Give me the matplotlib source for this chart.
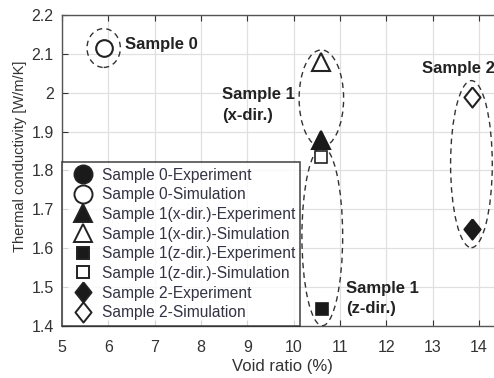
import matplotlib
matplotlib.use('Agg')
import matplotlib.pyplot as plt
from matplotlib.patches import Ellipse
from matplotlib.lines import Line2D

plt.rcParams['font.family'] = ['Liberation Sans', 'DejaVu Sans']

# measured / simulated points (void ratio %, conductivity W/m/K)
s0_sim = (5.9, 2.115)
s1x_exp = (10.6, 1.878)
s1x_sim = (10.6, 2.079)
s1z_exp = (10.62, 1.443)
s1z_sim = (10.6, 1.835)
s2_exp = (13.85, 1.65)
s2_sim = (13.85, 1.99)

# dashed groupings: centre x, centre y, width, height
groups = [(5.9, 2.115, 0.72, 0.10),
          (10.6, 1.985, 0.96, 0.25),
          (10.62, 1.63, 0.88, 0.46),
          (13.84, 1.816, 0.9, 0.43)]

labels = ['Sample 0-Experiment', 'Sample 0-Simulation',
          'Sample 1(x-dir.)-Experiment', 'Sample 1(x-dir.)-Simulation',
          'Sample 1(z-dir.)-Experiment', 'Sample 1(z-dir.)-Simulation',
          'Sample 2-Experiment', 'Sample 2-Simulation']

# tall diamond like the one in the figure
diamond = [(0, 1), (0.8, 0), (0, -1), (-0.8, 0), (0, 1)]

fig = plt.figure(figsize=(4.94, 3.78), dpi=100)
ax = fig.add_axes([62/494, 1 - 325.7/378, (502 - 62)/494, (325.7 - 15)/378])

ax.set_xlim(5, 14.5)
ax.set_ylim(1.4, 2.2)
ax.set_xticks(range(5, 15))
ax.set_xticklabels([str(v) for v in range(5, 15)])
ax.set_yticks([1.4, 1.5, 1.6, 1.7, 1.8, 1.9, 2.0, 2.1, 2.2])
ax.set_yticklabels(['1.4', '1.5', '1.6', '1.7', '1.8', '1.9', '2', '2.1', '2.2'])
ax.grid(True, color='#e0e0e0', linewidth=0.9)
ax.set_axisbelow(True)
ax.tick_params(direction='in', top=True, right=False, labelsize=11.5,
               colors='#333333', length=4, width=0.8)
ax.tick_params(axis='x', pad=10)
ax.tick_params(axis='y', pad=6)
for s in ax.spines.values():
    s.set_color('#555555')
    s.set_linewidth(1.0)

ax.set_xlabel('Void ratio (%)', fontsize=12, color='#333333', labelpad=3)
ax.set_ylabel('Thermal conductivity [W/m/K]', fontsize=10.5, color='#333333')
ax.yaxis.set_label_coords(-0.08, 0.545)

for cx, cy, w, h in groups:
    ax.add_patch(Ellipse((cx, cy), w, h, fill=False, linestyle=(0, (4, 3)),
                         edgecolor='#333333', linewidth=1.0, zorder=3))

ax.plot(*s0_sim, 'o', ms=12, mfc='white', mec='#222222', mew=1.5, zorder=4)
ax.plot(*s1x_sim, '^', ms=13, mfc='white', mec='#222222', mew=1.5, zorder=4)
ax.plot(*s1x_exp, '^', ms=13, mfc='#1a1a1a', mec='#1a1a1a', mew=1.5, zorder=4)
ax.plot(*s1z_sim, 's', ms=9, mfc='white', mec='#222222', mew=1.2, zorder=4)
ax.plot(*s1z_exp, 's', ms=9, mfc='#1a1a1a', mec='#1a1a1a', mew=1.2, zorder=4)
ax.plot(*s2_sim, marker=diamond, ms=14.5, mfc='white', mec='#222222', mew=1.5, zorder=4)
ax.plot(*s2_exp, marker=diamond, ms=14.5, mfc='#1a1a1a', mec='#1a1a1a', mew=1.5, zorder=4)

ax.text(6.37, 2.123, 'Sample 0', fontsize=12, fontweight='bold', color='#222222',
        va='center', ha='left')
ax.text(8.45, 1.968, 'Sample 1\n(x-dir.)', fontsize=12, fontweight='bold',
        color='#222222', va='center', ha='left', linespacing=1.45)
ax.text(12.78, 2.063, 'Sample 2', fontsize=12, fontweight='bold', color='#222222',
        va='center', ha='left')
ax.text(11.13, 1.47, 'Sample 1\n(z-dir.)', fontsize=12, fontweight='bold',
        color='#222222', va='center', ha='left', linespacing=1.45)

markers = ['o', 'o', '^', '^', 's', 's', diamond, diamond]
sizes = [13, 13, 13, 13, 9, 9, 14.5, 14.5]
handles = []
for i, (m, sz, lab) in enumerate(zip(markers, sizes, labels)):
    filled = i % 2 == 0
    handles.append(Line2D([], [], linestyle='none', marker=m, ms=sz,
                          mfc='#1a1a1a' if filled else 'white', mec='#222222',
                          mew=1.4, label=lab))
leg = ax.legend(handles=handles, loc='lower left', bbox_to_anchor=(0.0, 0.0),
                fontsize=11.2, frameon=True, fancybox=False, edgecolor='#222222',
                borderpad=0.35, labelspacing=0.3, handletextpad=0.2,
                handlelength=2.0, borderaxespad=0.0)
leg.get_frame().set_linewidth(1.2)
for t in leg.get_texts():
    t.set_color('#333344')

fig.savefig('out.png', dpi=100)
